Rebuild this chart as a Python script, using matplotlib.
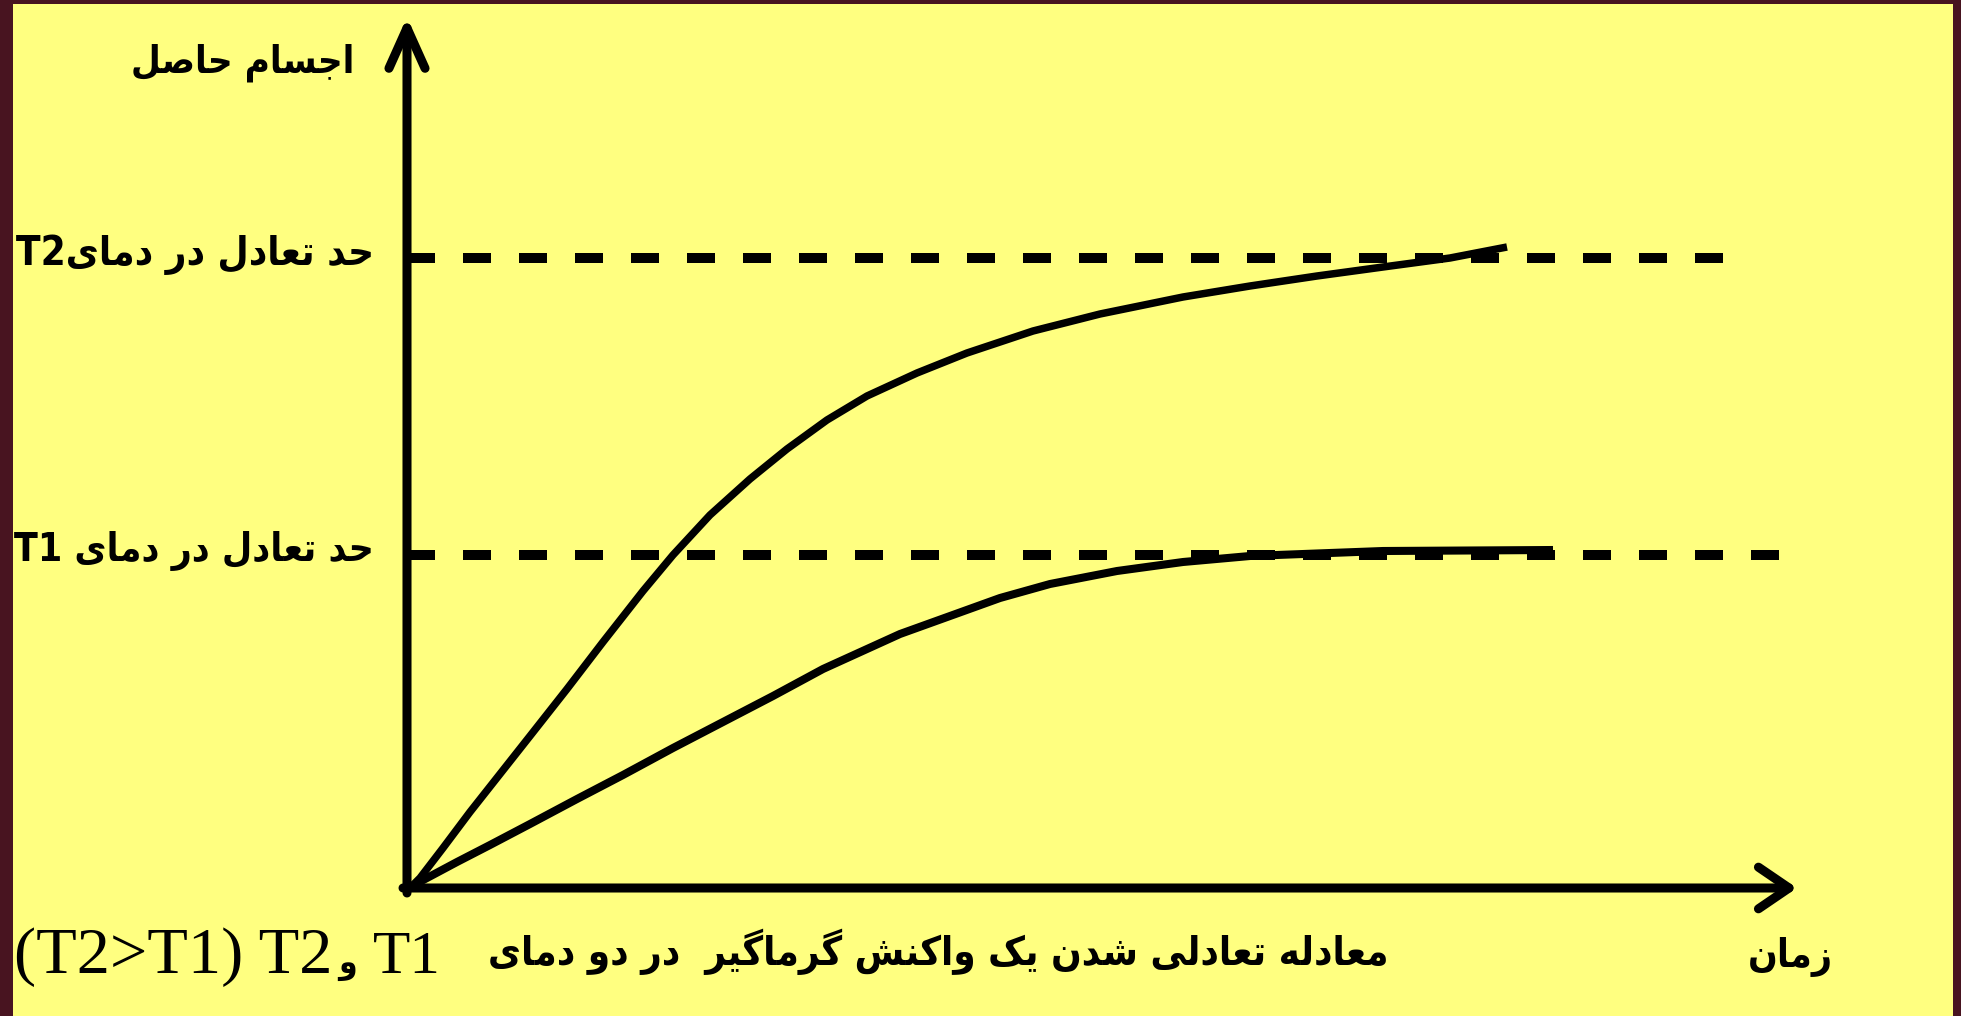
import matplotlib
matplotlib.use("Agg")
import matplotlib.pyplot as plt
from matplotlib.patches import Rectangle

# --- data (time, amount of product) ---
t_hot = [0.05, 0.13, 0.36, 0.63, 0.93, 1.23, 1.60, 1.96, 2.36, 2.66, 3.03, 3.43, 3.80,
         4.20, 4.60, 5.10, 5.60, 6.26, 6.93, 7.76, 8.43, 9.10, 9.76, 10.43, 11.00]
y_hot = [0.02, 0.10, 0.40, 0.76, 1.14, 1.52, 1.99, 2.46, 2.97, 3.33, 3.73, 4.09, 4.39,
         4.68, 4.92, 5.15, 5.35, 5.57, 5.74, 5.91, 6.02, 6.12, 6.21, 6.30, 6.41]
t_cold = [0.05, 0.20, 0.50, 0.83, 1.23, 1.70, 2.16, 2.66, 3.16, 3.66, 4.16, 4.93, 5.93,
          6.43, 7.10, 7.76, 8.43, 9.76, 11.46]
y_cold = [0.02, 0.10, 0.26, 0.43, 0.64, 0.89, 1.13, 1.40, 1.66, 1.92, 2.19, 2.54, 2.90,
          3.04, 3.17, 3.26, 3.32, 3.37, 3.38]
eq_levels = [6.30, 3.33]          # T2, T1
eq_ends = [13.36, 13.81]
x_max, y_max = 13.90, 8.71

ylabel = "اجسام حاصل"
xlabel = "زمان"
eq_labels = ["حد تعادل در دمای", "حد تعادل در دمای"]
eq_tags = ["T2", "T1 "]
caption_fa = "معادله تعادلی شدن یک واکنش گرماگیر  در دو دمای"
caption_lat = "(T2>T1) T2"
caption_t1 = "T1"

# --- minimal Persian shaping (matplotlib has no RTL/joining support) ---
FORMS = {
    "ا": ("\uFE8D", "\uFE8E", None, None), "د": ("\uFEA9", "\uFEAA", None, None),
    "ر": ("\uFEAD", "\uFEAE", None, None), "ز": ("\uFEAF", "\uFEB0", None, None),
    "و": ("\uFEED", "\uFEEE", None, None),
    "ب": ("\uFE8F", "\uFE90", "\uFE91", "\uFE92"), "ت": ("\uFE95", "\uFE96", "\uFE97", "\uFE98"),
    "ج": ("\uFE9D", "\uFE9E", "\uFE9F", "\uFEA0"), "ح": ("\uFEA1", "\uFEA2", "\uFEA3", "\uFEA4"),
    "س": ("\uFEB1", "\uFEB2", "\uFEB3", "\uFEB4"), "ش": ("\uFEB5", "\uFEB6", "\uFEB7", "\uFEB8"),
    "ص": ("\uFEB9", "\uFEBA", "\uFEBB", "\uFEBC"), "ع": ("\uFEC9", "\uFECA", "\uFECB", "\uFECC"),
    "ل": ("\uFEDD", "\uFEDE", "\uFEDF", "\uFEE0"), "م": ("\uFEE1", "\uFEE2", "\uFEE3", "\uFEE4"),
    "ن": ("\uFEE5", "\uFEE6", "\uFEE7", "\uFEE8"), "ه": ("\uFEE9", "\uFEEA", "\uFEEB", "\uFEEC"),
    "ی": ("\uFBFC", "\uFBFD", "\uFBFE", "\uFBFF"), "ک": ("\uFB8E", "\uFB8F", "\uFB90", "\uFB91"),
    "گ": ("\uFB92", "\uFB93", "\uFB94", "\uFB95"),
}


def fa(s):
    out = []
    for i, c in enumerate(s):
        if c not in FORMS:
            out.append(c); continue
        iso, fin, ini, med = FORMS[c]
        p = s[i - 1] if i > 0 else ""
        n = s[i + 1] if i + 1 < len(s) else ""
        jp = p in FORMS and FORMS[p][2] is not None
        jn = ini is not None and n in FORMS
        out.append(med if jp and jn else fin if jp else ini if jn else iso)
    return "".join(reversed(out))


YEL = "#FFFF80"
fig = plt.figure(figsize=(19.61, 10.16), dpi=100, facecolor="#481420")
ax = fig.add_axes([0, 0, 1, 1])
ax.set_xlim(-4.07, 15.54); ax.set_ylim(-1.28, 8.88)
ax.axis("off")
ax.add_patch(Rectangle((0.0066, -0.01), 0.9895, 1.006, transform=ax.transAxes,
                       facecolor=YEL, edgecolor="none", zorder=0))

# axes with arrows
arr = dict(color="k", lw=6.5, shrinkA=0, shrinkB=0, mutation_scale=10)
ax.annotate("", xy=(0, y_max), xytext=(0, -0.05),
            arrowprops=dict(arrowstyle="->,head_length=2.9,head_width=1.3", **arr))
ax.annotate("", xy=(x_max, 0), xytext=(-0.04, 0),
            arrowprops=dict(arrowstyle="->,head_length=2.2,head_width=1.5", **arr))

# equilibrium limits
for lev, end in zip(eq_levels, eq_ends):
    ax.plot([0, end], [lev, lev], color="k", lw=7.2, ls=(0, (2.8, 2.8)), dash_capstyle="butt")

ax.plot(t_hot, y_hot, color="k", lw=5.4, solid_capstyle="butt", solid_joinstyle="round")
ax.plot(t_cold, y_cold, color="k", lw=5.8, solid_capstyle="butt", solid_joinstyle="round")

# texts (font size later fitted to the widths seen in the picture)
fb = dict(family="DejaVu Sans", weight="bold", stretch="condensed")
texts = []
texts.append((ax.text(-0.53, 8.16, fa(ylabel), ha="right", va="baseline", fontsize=26, **fb), 225))
for lab, tag, lev, w in zip(eq_labels, eq_tags, [6.23, 3.27], [359, 360]):
    texts.append((ax.text(-0.33, lev, tag + fa(lab), ha="right", va="baseline", fontsize=26, **fb), w))
texts.append((ax.text(13.83, -0.79, fa(xlabel), ha="center", va="baseline", fontsize=26, **fb), 85))
texts.append((ax.text(9.82, -0.77, fa(caption_fa), ha="right", va="baseline", fontsize=26, **fb), 903))
texts.append((ax.text(-3.93, -0.85, caption_lat, ha="left", va="baseline", fontsize=44,
                      family="Liberation Serif"), 318))
ax.text(-0.69, -0.85, fa("و"), ha="left", va="baseline", fontsize=24, **fb)
ax.text(-0.34, -0.85, caption_t1, ha="left", va="baseline", fontsize=44, family="Liberation Serif")

fig.canvas.draw()
r = fig.canvas.get_renderer()
for t, w in texts:
    t.set_fontsize(t.get_fontsize() * w / t.get_window_extent(r).width)

fig.savefig("out.png", dpi=100, facecolor=fig.get_facecolor())
